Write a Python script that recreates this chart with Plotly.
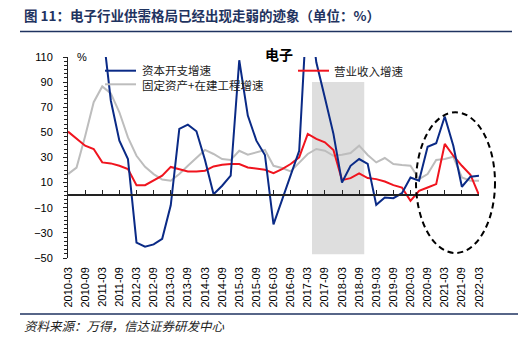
import plotly.graph_objects as go

# ---------------- data ----------------
quarters = [f"{y}-{m:02d}" for y in range(2010, 2023) for m in (3, 6, 9, 12)][:49]

capex_growth = [160, 180, 170, 150, 135, 75.4, 43.4, 28.8, -37.8, -41, -39.2, -34.7, -8,
                52.8, 56.2, 50.9, 28, 0.8, 7.5, 15.5, 107.4, 63.4, 43.4, 32,
                -23.2, -3.2, 16.8, 35.4, 160, 105.8, 77.6, 48.8, 10.1, 23.4, 28.8, 25,
                -7.7, -1.9, -2.4, 1.6, 14.1, 11.5, 38.6, 41.3, 62.6, 39.4, 6.7, 14.7, 15.5]

fixed_assets_growth = [16.8, 22, 47, 74, 86.6, 81, 66, 46, 31.4, 22.6, 16.8, 12.5, 11.5,
                       16.8, 23.4, 30.1, 36, 32.8, 28.8, 28, 35.4, 32.2, 34.1, 36,
                       23.4, 21.6, 18.9, 26.1, 32.8, 36.8, 35.4, 31.4, 32.2, 33.6, 39.4, 32,
                       26.1, 29.6, 24.8, 24, 23.4, 12.8, 16.8, 28, 28.8, 30.6, 14.1, 11.5, 11.5]

revenue_growth = [50.6, 44.8, 39.4, 36.8, 26.1, 25.3, 23.4, 20.8, 8, 8, 11.5, 15.5, 22.5,
                  20.8, 18.9, 18.9, 19.5, 22.9, 24.2, 24.8, 24.8, 22.1, 21.3, 20.2,
                  17.6, 20.8, 24.8, 30.1, 48.8, 44.8, 42.1, 36, 12, 13.6, 17.3, 13.6,
                  12.8, 10.9, 8, 6.1, -4.5, 3.5, 6.1, 8.8, 40.8, 31.4, 23.4, 16.3, 0]

x_tick_labels = quarters[::2]
y_tick_values = [-50, -30, -10, 10, 30, 50, 70, 90, 110]

series_names = ["资本开支增速", "固定资产+在建工程增速", "营业收入增速"]
title_text = "图 11：电子行业供需格局已经出现走弱的迹象（单位：%）"
chart_title = "电子"
source_text = "资料来源：万得，信达证券研发中心"

# highlighted period (category index positions)
shade_start, shade_end = 28.5, 34.6

# ---------------- layout geometry ----------------
W, H = 530, 343
L, R, T, B = 68, 51, 57, 85
PW, PH = W - L - R, H - T - B


def xp(px):
    return (px - L) / PW


def yp(py):
    return (H - B - py) / PH


BLUE = "#0A2A86"
RED = "#F0141E"
GRAY = "#BDBDBD"
NAVY = "#1F3360"
CJK = "Noto Sans CJK SC"
LAT = "Liberation Sans, Arial"

fig = go.Figure()

fig.add_trace(go.Scatter(x=quarters, y=fixed_assets_growth, mode="lines",
                         line=dict(color=GRAY, width=2), name=series_names[1], showlegend=False))
fig.add_trace(go.Scatter(x=quarters, y=revenue_growth, mode="lines",
                         line=dict(color=RED, width=2), name=series_names[2], showlegend=False))
fig.add_trace(go.Scatter(x=quarters, y=capex_growth, mode="lines",
                         line=dict(color=BLUE, width=2), name=series_names[0], showlegend=False))
# carrier for the zero-positioned tick axis
fig.add_trace(go.Scatter(x=quarters, y=[None] * len(quarters), xaxis="x2", mode="lines",
                         showlegend=False, hoverinfo="skip"))

fig.update_layout(
    width=W, height=H,
    margin=dict(l=L, r=R, t=T, b=B),
    paper_bgcolor="white", plot_bgcolor="white",
    showlegend=False,
    xaxis=dict(type="category", categoryorder="array", categoryarray=quarters,
               range=[0, 48], tickvals=x_tick_labels, ticktext=x_tick_labels,
               tickangle=-90, showline=False, ticks="", showgrid=False, zeroline=False,
               tickfont=dict(family=LAT, size=11, color="black"), ticklabelstandoff=6),
    xaxis2=dict(type="category", categoryorder="array", categoryarray=quarters,
                overlaying="x", anchor="free", position=50 / 160, side="bottom",
                range=[0, 48], tickvals=x_tick_labels, showticklabels=False,
                ticks="inside", ticklen=4, tickwidth=1, tickcolor="#222",
                showline=True, linecolor="#222", linewidth=1.5, showgrid=False, zeroline=False),
    yaxis=dict(range=[-50, 110], tickvals=y_tick_values, ticks="outside", ticklen=4,
               tickcolor="#222", showline=True, linecolor="#222", linewidth=1,
               showgrid=False, zeroline=False,
               minor=dict(dtick=10 / 3, tick0=-50, ticks="outside", ticklen=3, tickcolor="#222"),
               tickfont=dict(family=LAT, size=11, color="black"), ticklabelstandoff=8),
)

shapes = [
    # shaded period
    dict(type="rect", xref="x", yref="y", x0=shade_start, x1=shade_end, y0=-47, y1=90,
         fillcolor="#DEDEDE", line=dict(width=0), layer="below"),
    # dashed ellipse
    dict(type="circle", xref="paper", yref="y", x0=xp(416), x1=xp(495), y0=-46, y1=66,
         line=dict(color="black", width=2, dash="6px,4px")),
    # title rule & bottom rule
    dict(type="line", xref="paper", yref="paper", x0=xp(20), x1=xp(512), y0=yp(31.5), y1=yp(31.5),
         line=dict(color=NAVY, width=1.5)),
    dict(type="line", xref="paper", yref="paper", x0=xp(20), x1=xp(518), y0=yp(314), y1=yp(314),
         line=dict(color=NAVY, width=1.5)),
    # legend samples
    dict(type="line", xref="paper", yref="paper", x0=xp(105), x1=xp(136), y0=yp(70.7), y1=yp(70.7),
         line=dict(color=BLUE, width=2)),
    dict(type="line", xref="paper", yref="paper", x0=xp(105), x1=xp(136), y0=yp(84.3), y1=yp(84.3),
         line=dict(color=GRAY, width=2)),
    dict(type="line", xref="paper", yref="paper", x0=xp(298), x1=xp(329), y0=yp(70.7), y1=yp(70.7),
         line=dict(color=RED, width=2)),
]
fig.update_layout(shapes=shapes)

annotations = [
    dict(text=f"<b>{title_text}</b>", x=xp(22), y=yp(15), xanchor="left", yanchor="middle",
         font=dict(family=CJK, size=13.5, color=NAVY)),
    dict(text=f"<b>{chart_title}</b>", x=xp(279), y=yp(54), xanchor="center", yanchor="middle",
         font=dict(family=CJK, size=14, color="black")),
    dict(text="%", x=xp(75), y=yp(57), xanchor="left", yanchor="middle",
         font=dict(family=LAT, size=11, color="black")),
    dict(text=f"{series_names[0]}<br>{series_names[1]}", x=xp(140), y=yp(77.5),
         xanchor="left", yanchor="middle", align="left",
         font=dict(family=CJK, size=11.5, color="#222")),
    dict(text=series_names[2], x=xp(332), y=yp(70.7), xanchor="left", yanchor="middle",
         font=dict(family=CJK, size=11.5, color="#222")),
    dict(text=f"<i>{source_text}</i>", x=xp(22), y=yp(325), xanchor="left", yanchor="middle",
         font=dict(family=CJK, size=12.5, color="#222")),
]
for a in annotations:
    a.update(xref="paper", yref="paper", showarrow=False)
fig.update_layout(annotations=annotations)

fig.write_html("out.html")
